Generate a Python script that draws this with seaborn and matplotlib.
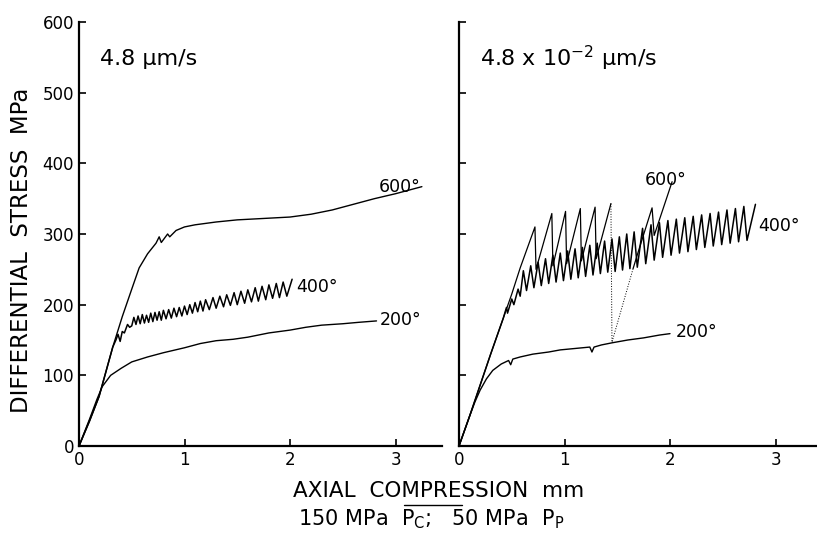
import numpy as np
import matplotlib
matplotlib.use("Agg")
import matplotlib.pyplot as plt
from matplotlib.lines import Line2D
import seaborn as sns

# ---- data (axial compression mm, differential stress MPa) ----
# left panel: 4.8 um/s
left_600_x = [0, 0.10, 0.19, 0.32, 0.41, 0.50, 0.57, 0.65, 0.73, 0.76, 0.78, 0.84,
              0.86, 0.92, 1.00, 1.10, 1.30, 1.50, 1.75, 2.00, 2.20, 2.40, 2.60, 2.80, 3.00, 3.25]
left_600_y = [0, 35, 70, 140, 183, 222, 252, 272, 287, 296, 288, 300,
              296, 305, 310, 313, 317, 320, 322, 324, 328, 334, 342, 350, 357, 367]

left_400_x = [0, 0.10, 0.19, 0.32, 0.35, 0.37, 0.39, 0.41, 0.43, 0.46, 0.48,
              0.50, 0.52, 0.54, 0.56, 0.58, 0.60, 0.62, 0.64, 0.66, 0.68, 0.70, 0.72, 0.74, 0.76, 0.78, 0.80,
              0.825, 0.85, 0.875, 0.90, 0.925, 0.95, 0.975, 1.00, 1.025, 1.05, 1.075, 1.10, 1.125, 1.15, 1.175, 1.20,
              1.235, 1.27, 1.30, 1.335, 1.37, 1.40, 1.435, 1.47, 1.50, 1.535, 1.57, 1.60, 1.635, 1.67,
              1.70, 1.735, 1.77, 1.80, 1.835, 1.87, 1.90, 1.935, 1.97, 2.02]
left_400_y = [0, 36, 70, 140, 150, 158, 148, 162, 160, 172, 168,
              170, 182, 172, 184, 173, 186, 174, 185, 175, 188, 176, 189, 178, 190, 178, 192,
              180, 193, 181, 195, 183, 196, 184, 198, 186, 200, 188, 203, 190, 205, 191, 207,
              193, 210, 195, 212, 197, 214, 199, 217, 200, 219, 202, 221, 204, 224,
              205, 226, 207, 228, 209, 230, 210, 232, 212, 236]

left_200_x = [0, 0.10, 0.17, 0.22, 0.30, 0.40, 0.50, 0.65, 0.80, 1.00, 1.15, 1.30, 1.46,
              1.60, 1.80, 2.00, 2.15, 2.30, 2.50, 2.65, 2.82]
left_200_y = [0, 38, 66, 84, 100, 110, 119, 126, 132, 139, 145, 149, 151,
              154, 160, 164, 168, 171, 173, 175, 177]

# right panel: 4.8 x 10^-2 um/s
right_600_x = [0, 0.10, 0.20, 0.30, 0.42, 0.50, 0.58, 0.72, 0.73, 0.88, 0.89, 1.01, 1.02,
               1.15, 1.16, 1.29, 1.30, 1.44]
right_600_y = [0, 42, 86, 130, 181, 215, 252, 310, 250, 329, 255, 332, 258,
               336, 262, 338, 265, 343]
right_600_drop_x = [1.44, 1.45, 1.65]
right_600_drop_y = [343, 147, 251]
right_600_end_x = [1.65, 1.72, 1.83, 1.85, 2.02]
right_600_end_y = [251, 285, 337, 298, 374]

right_400_x = [0, 0.10, 0.20, 0.30, 0.42, 0.45, 0.46, 0.50, 0.52, 0.56, 0.58,
               0.61, 0.64, 0.68, 0.71, 0.75, 0.78, 0.82, 0.85, 0.89, 0.92, 0.96, 0.99,
               1.03, 1.06, 1.10, 1.13, 1.17, 1.20, 1.24, 1.27, 1.31, 1.34, 1.38, 1.41,
               1.45, 1.48, 1.52, 1.55, 1.59, 1.62, 1.66, 1.69, 1.74, 1.77, 1.82, 1.85,
               1.90, 1.93, 1.98, 2.01, 2.06, 2.09, 2.14, 2.17, 2.22, 2.25, 2.30, 2.33,
               2.38, 2.41, 2.46, 2.49, 2.54, 2.57, 2.62, 2.65, 2.70, 2.73, 2.81]
right_400_y = [0, 42, 86, 130, 181, 196, 188, 208, 200, 222, 212,
               248, 220, 255, 224, 260, 227, 265, 230, 270, 232, 273, 234,
               276, 236, 279, 238, 281, 240, 284, 242, 287, 244, 290, 246,
               293, 247, 296, 249, 300, 251, 303, 253, 308, 258, 313, 263,
               316, 267, 319, 270, 321, 273, 323, 275, 325, 278, 327, 281,
               329, 283, 331, 285, 334, 287, 336, 289, 339, 291, 342]

right_200_x = [0, 0.10, 0.15, 0.20, 0.26, 0.32, 0.40, 0.47, 0.49, 0.51, 0.58, 0.70, 0.85,
               0.96, 1.10, 1.24, 1.26, 1.28, 1.35, 1.45, 1.60, 1.75, 1.90, 2.00]
right_200_y = [0, 42, 62, 79, 95, 107, 116, 121, 115, 123, 126, 130, 133,
               136, 138, 140, 133, 140, 143, 146, 150, 153, 157, 159]

x_ticks = [0, 1, 2, 3]
y_ticks = [0, 100, 200, 300, 400, 500, 600]

# curve labels: (text, x, y)
left_labels = [("600°", 2.84, 367), ("400°", 2.06, 225), ("200°", 2.85, 178)]
right_labels = [("600°", 1.76, 377), ("400°", 2.84, 311), ("200°", 2.05, 161)]

sns.set_style("ticks")
plt.rcParams["font.family"] = ["DejaVu Sans"]
for key in ["text.color", "axes.labelcolor", "xtick.color", "ytick.color"]:
    plt.rcParams[key] = "black"

W, H = 817, 533
fig = plt.figure(figsize=(W / 100, H / 100), dpi=100)
ax1 = fig.add_axes([79 / W, 87 / H, 363 / W, 424 / H])
ax2 = fig.add_axes([459 / W, 87 / H, 358 / W, 424 / H])

def draw(ax, x, y, **kw):
    sns.lineplot(x=x, y=y, sort=False, estimator=None, color="black", ax=ax, **kw)

draw(ax1, left_600_x, left_600_y, lw=1.0)
draw(ax1, left_400_x, left_400_y, lw=1.1)
draw(ax1, left_200_x, left_200_y, lw=1.0)

draw(ax2, right_600_x, right_600_y, lw=0.9)
draw(ax2, right_600_drop_x, right_600_drop_y, lw=0.7, linestyle=":")
draw(ax2, right_600_end_x, right_600_end_y, lw=0.9)
draw(ax2, right_400_x, right_400_y, lw=1.1)
draw(ax2, right_200_x, right_200_y, lw=1.0)

for ax, labels, xmax in [(ax1, left_labels, 363 / 105.5), (ax2, right_labels, 358 / 105.5)]:
    ax.set_xlim(0, xmax)
    ax.set_ylim(0, 600)
    ax.set_xticks(x_ticks)
    ax.set_yticks(y_ticks)
    ax.tick_params(direction="in", length=5, width=1.2, labelsize=12, color="black")
    sns.despine(ax=ax)
    for s in ["left", "bottom"]:
        ax.spines[s].set_linewidth(1.6)
        ax.spines[s].set_color("black")
    for txt, x, y in labels:
        ax.text(x, y, txt, fontsize=12.5, ha="left", va="center")

ax2.set_yticklabels([])

ax1.text(0.058, 0.913, "4.8 μm/s", transform=ax1.transAxes, fontsize=16, va="center")
ax2.text(0.059, 0.913, r"4.8 x 10$^{-2}$ μm/s", transform=ax2.transAxes, fontsize=16, va="center")

fig.text(22 / W, 1 - 250 / H, "DIFFERENTIAL  STRESS  MPa", rotation=90,
         fontsize=16.5, ha="center", va="center")
fig.text(439 / W, 1 - 491 / H, "AXIAL  COMPRESSION  mm", fontsize=15.5, ha="center", va="center")
fig.text(431 / W, 1 - 519 / H, r"150 MPa  P$_{\mathrm{C}}$;   50 MPa  P$_{\mathrm{P}}$",
         fontsize=15, ha="center", va="center")
fig.add_artist(Line2D([404 / W, 462 / W], [1 - 505 / H] * 2, color="black", lw=1.0))

fig.savefig("out.png", dpi=100)
